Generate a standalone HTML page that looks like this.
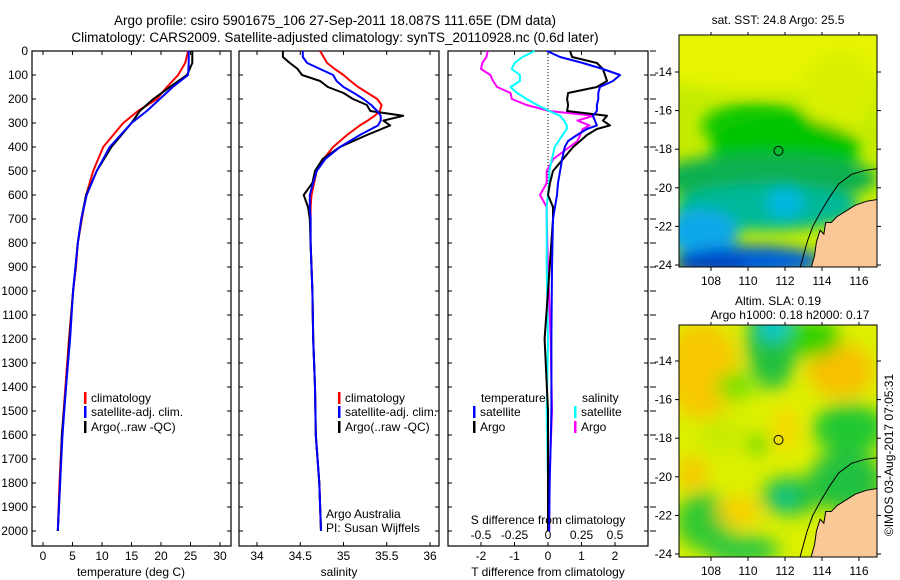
<!DOCTYPE html>
<html><head><meta charset="utf-8"><style>
body{margin:0;background:#fff}
svg{display:block;font-family:"Liberation Sans",sans-serif}
</style></head><body>
<svg id="c" width="900" height="580" viewBox="0 0 900 580" xmlns="http://www.w3.org/2000/svg">
<defs>
<filter id="bl1" x="-20%" y="-20%" width="140%" height="140%"><feGaussianBlur stdDeviation="9"/></filter>
<filter id="bl2" x="-30%" y="-30%" width="160%" height="160%"><feGaussianBlur stdDeviation="7"/></filter>
<clipPath id="m1c"><rect x="679" y="35" width="198" height="232"/></clipPath>
<clipPath id="m2c"><rect x="679" y="325" width="198" height="232"/></clipPath>
</defs>
<text x="335" y="25" font-size="13.5" text-anchor="middle">Argo profile: csiro 5901675_106 27-Sep-2011 18.087S 111.65E (DM data)</text>
<text x="335" y="42" font-size="13.5" text-anchor="middle">Climatology: CARS2009. Satellite-adjusted climatology: synTS_20110928.nc (0.6d later)</text>
<g id="maps"></g>
<g id="plots"></g>
</svg>
<script>
// ---- data ----
const tDepth=[0,50,100,150,200,250,300,400,500,600,700,800,900,1000,1200,1400,1600,1800,2000];
const tClim=[24.6,24.1,22.9,21,19.3,16.1,13.6,10.2,8.5,7.3,6.6,5.9,5.6,5.1,4.4,3.8,3.2,2.8,2.5];
const tSat=[24.7,24.7,24.6,22,19.8,17.6,15,11.3,9.1,7.4,6.5,5.9,5.5,5.1,4.6,3.9,3.3,2.9,2.5];
const tArgo=[25.3,25.3,24.4,21.5,18.7,16.4,15,11.6,9.1,7.3,6.5,5.9,5.5,5.1,4.5,3.9,3.2,2.9,2.5];
const sDepth=[0,25,50,75,100,125,150,175,200,225,250,270,290,310,350,400,450,500,550,600,650,700,800,1000,1200,1400,1600,1800,2000];
const sArgo=[34.30,34.30,34.38,34.47,34.52,34.73,34.82,35.0,35.11,35.27,35.31,35.69,35.46,35.54,35.27,34.96,34.76,34.67,34.64,34.54,34.59,34.61,34.62,34.64,34.65,34.67,34.68,34.72,34.74];
const sClim=[34.73,34.77,34.81,34.9,35.0,35.08,35.17,35.28,35.39,35.44,35.42,35.36,35.28,35.19,35.04,34.88,34.77,34.69,34.66,34.63,34.62,34.62,34.62,34.64,34.65,34.67,34.68,34.72,34.74];
const sSat=[34.53,34.53,34.58,34.73,34.88,34.92,35.0,35.12,35.23,35.32,35.39,35.43,35.43,35.4,35.19,34.96,34.79,34.69,34.65,34.61,34.61,34.62,34.62,34.64,34.65,34.67,34.68,34.72,34.74];
const dDepth=[0,25,50,75,100,125,150,175,200,225,250,270,290,310,325,350,375,400,450,500,550,600,650,700,900,1200,1500,1800,2000];
const dTSat=[-0.03,0.36,1.04,1.64,2.15,1.94,1.55,1.5,1.5,1.46,1.46,1.34,1.4,1.46,1.16,0.87,0.6,0.5,0.42,0.36,0.3,0.27,0.21,0.15,0.12,0.1,0.1,0.05,0.03];
const dTArgo=[0.66,0.72,1.46,1.64,1.7,1.76,1.46,0.6,0.57,0.6,0.57,1.76,1.64,1.85,1.46,1.16,0.96,0.75,0.45,0.15,0.06,0,0.15,0.15,0.05,-0.1,0,0,0];
const dSArgo=[-0.45,-0.46,-0.49,-0.5,-0.43,-0.41,-0.38,-0.28,-0.27,-0.16,0.01,0.34,0.22,0.31,0.26,0.24,0.22,0.16,0.04,-0.01,-0.01,-0.06,-0.01,-0.01,0,0.02,0.03,0.01,0.01];
const dSSat=[-0.1,-0.19,-0.25,-0.27,-0.21,-0.21,-0.28,-0.23,-0.16,-0.08,0.01,0.09,0.12,0.14,0.14,0.11,0.08,0.05,0.03,0.01,0.01,0,-0.01,-0.01,-0.01,0,-0.01,0,0];
const depthTicks=[0,100,200,300,400,500,600,700,800,900,1000,1100,1200,1300,1400,1500,1600,1700,1800,1900,2000];
const tTicks=[0,5,10,15,20,25,30];
const sTicks=[34,34.5,35,35.5,36];
const dTTicks=[-2,-1,0,1,2];
const dSTicks=[-0.5,-0.25,0,0.25,0.5];
const latTicks=[-14,-16,-18,-20,-22,-24];
const lonTicks=[108,110,112,114,116];

const NS='http://www.w3.org/2000/svg';
const P=document.getElementById('plots'), M=document.getElementById('maps');
function mk(tag,attrs,parent){const e=document.createElementNS(NS,tag);for(const k in attrs)e.setAttribute(k,attrs[k]);(parent||P).appendChild(e);return e;}
function txt(x,y,s,anchor,size,parent){const e=mk('text',{x:x,y:y,'font-size':size||12,'text-anchor':anchor||'start'},parent);e.textContent=s;return e;}
const TOP=51,BOT=546;
const yD=d=>TOP+d*0.24;
const xT=v=>43+v*5.9;
const xS=v=>257+(v-34)*86.5;
const xDT=v=>548+v*33.5;
const xDS=v=>548+v*134;

function panel(x0,x1,name){
  const r=mk('rect',{x:x0,y:TOP,width:x1-x0,height:BOT-TOP,fill:'none',stroke:'#000','stroke-width':1.2});
  
  
  depthTicks.forEach(d=>{mk('line',{x1:x0,x2:x0+4,y1:yD(d),y2:yD(d),stroke:'#000'});mk('line',{x1:x1-4,x2:x1,y1:yD(d),y2:yD(d),stroke:'#000'});});
}
function line(xs,ds,xf,color,name){
  const pts=xs.map((v,i)=>xf(v).toFixed(1)+','+yD(ds[i]).toFixed(1)).join(' ');
  const e=mk('polyline',{points:pts,fill:'none',stroke:color,'stroke-width':2,'stroke-linejoin':'round'});
  
  
}
// panel 1
panel(32,231,'temperature-panel');
depthTicks.forEach(d=>{const t=txt(28,yD(d)+4,String(d),'end',12);});
tTicks.forEach(v=>{mk('line',{x1:xT(v),x2:xT(v),y1:BOT,y2:BOT-4,stroke:'#000'});mk('line',{x1:xT(v),x2:xT(v),y1:TOP,y2:TOP+4,stroke:'#000'});const t=txt(xT(v),560,String(v),'middle',12);});
line(tClim,tDepth,xT,'#f00','temperature-climatology-line');
line(tArgo,tDepth,xT,'#000','temperature-argo-line');
line(tSat,tDepth,xT,'#00f','temperature-satellite-line');
const xl1=txt(131,576,'temperature (deg C)','middle',12);
// panel 2
panel(239,439,'salinity-panel');
sTicks.forEach(v=>{mk('line',{x1:xS(v),x2:xS(v),y1:BOT,y2:BOT-4,stroke:'#000'});mk('line',{x1:xS(v),x2:xS(v),y1:TOP,y2:TOP+4,stroke:'#000'});const t=txt(xS(v),560,String(v),'middle',12);});
line(sClim,sDepth,xS,'#f00','salinity-climatology-line');
line(sArgo,sDepth,xS,'#000','salinity-argo-line');
line(sSat,sDepth,xS,'#00f','salinity-satellite-line');
const xl2=txt(339,576,'salinity','middle',12);
// panel 3
panel(448,648,'difference-panel');
mk('line',{x1:548,x2:548,y1:TOP,y2:yD(620),stroke:'#000','stroke-dasharray':'1,2'});
dTTicks.forEach(v=>{mk('line',{x1:xDT(v),x2:xDT(v),y1:BOT,y2:BOT-4,stroke:'#000'});mk('line',{x1:xDT(v),x2:xDT(v),y1:TOP,y2:TOP+4,stroke:'#000'});const t=txt(xDT(v),560,String(v),'middle',12);});
dSTicks.forEach(v=>{const t=txt(xDS(v),539,String(v),'middle',12);});
line(dSArgo,dDepth,xDS,'#f0f','s-diff-argo-line');
line(dSSat,dDepth,xDS,'#0ff','s-diff-satellite-line');
line(dTArgo,dDepth,xDT,'#000','t-diff-argo-line');
line(dTSat,dDepth,xDT,'#00f','t-diff-satellite-line');
depthTicks.forEach(d=>mk('line',{x1:650,x2:656,y1:yD(d),y2:yD(d),stroke:'#000'}));
const xl3=txt(548,576,'T difference from climatology','middle',12);
const xl4=txt(548,524,'S difference from climatology','middle',12);
// legends
function leg(x,y,c,s,name){mk('rect',{x:x,y:y-10,width:2.5,height:12,fill:c});const t=txt(x+7,y,s,'start',12);}
leg(84,402,'#f00','climatology','legend-climatology');
leg(84,416,'#00f','satellite-adj. clim.','legend-satellite');
leg(84,431,'#000','Argo(..raw -QC)','legend-argo');
leg(338,402,'#f00','climatology','legend2-climatology');
leg(338,416,'#00f','satellite-adj. clim.','legend2-satellite');
leg(338,431,'#000','Argo(..raw -QC)','legend2-argo');
txt(481,402,'temperature','start',12);
txt(582,402,'salinity','start',12);
leg(473,416,'#00f','satellite','legend3-t-satellite');
leg(473,431,'#000','Argo','legend3-t-argo');
leg(574,416,'#0ff','satellite','legend3-s-satellite');
leg(574,431,'#f0f','Argo','legend3-s-argo');
txt(326,518,'Argo Australia','start',12);
txt(326,532,'PI: Susan Wijffels','start',12);

// ---- maps ----
const mx=lon=>711+(lon-108)*18.5;
function map(y0,yLat14,clip,blobs,bg,name,filt){
  const my=lat=>yLat14+(-14-lat)*(193/10);
  const g=mk('g',{'clip-path':'url(#'+clip+')'},M);
  
  
  mk('rect',{x:679,y:y0,width:198,height:232,fill:bg},g);
  const gb=mk('g',{filter:'url(#'+filt+')'},g);
  blobs.forEach(b=>mk('ellipse',{cx:mx(b[0]),cy:my(b[1]),rx:b[2]*18.5,ry:b[3]*19.3,fill:b[4]},gb));
  const land=[[117,-20.6],[116.4,-20.7],[115.8,-20.9],[115.3,-21.2],[114.8,-21.5],[114.5,-21.8],[114.2,-21.8],[114.1,-22.4],[113.9,-22.2],[113.7,-22.8],[113.6,-23.5],[113.4,-24.2],[117,-24.2]];
  mk('polygon',{points:land.map(p=>mx(p[0])+','+my(p[1])).join(' '),fill:'#f9c896',stroke:'#000','stroke-width':1},g);
  const iso=[[117.1,-19.0],[116.3,-19.1],[115.6,-19.3],[114.9,-19.8],[114.4,-20.5],[113.9,-21.3],[113.5,-22.0],[113.2,-22.8],[113.0,-23.5],[112.8,-24.2]];
  mk('polyline',{points:iso.map(p=>mx(p[0])+','+my(p[1])).join(' '),fill:'none',stroke:'#000','stroke-width':1},g);
  const c=mk('circle',{cx:mx(111.65),cy:my(-18.087),r:4.5,fill:'none',stroke:'#000','stroke-width':1},M);
  
  
  mk('rect',{x:679,y:y0,width:198,height:232,fill:'none',stroke:'#000'},M);
  latTicks.forEach(l=>{mk('line',{x1:679,x2:675,y1:my(l),y2:my(l),stroke:'#000'},M);mk('line',{x1:877,x2:881,y1:my(l),y2:my(l),stroke:'#000'},M);txt(672,my(l)+4,String(l),'end',12,M);});
  lonTicks.forEach(l=>{mk('line',{x1:mx(l),x2:mx(l),y1:y0+232,y2:y0+236,stroke:'#000'},M);mk('line',{x1:mx(l),x2:mx(l),y1:y0,y2:y0-3,stroke:'#000'},M);txt(mx(l),y0+250,String(l),'middle',12,M);});
}
map(35,72,'m1c',[
 [111,-12.5,9,2.5,'#e6f400'],[115,-15,2,2,'#d8f000'],[110.5,-16.8,3,1.2,'#10c800'],[112,-18,4,1.6,'#00c400'],
 [111,-19.5,6,1.3,'#10b050'],[111,-21,5,1.2,'#00b898'],[112,-20.8,1,0.8,'#00b8e0'],[107.5,-22.3,2,1.2,'#10a8e8'],
 [110,-23.8,4,0.8,'#0060d8'],[108,-24,2,0.5,'#0040c0']
],'#c4ec00','sst-map','bl2');
map(325,361,'m2c',[
 [107.5,-14.5,2,2.5,'#f8c800'],[115,-14.5,1.8,1.4,'#f8c000'],[111.3,-13,1.4,2.5,'#20c040'],[111.5,-12.3,1,0.6,'#00c8d8'],
 [115.5,-17.5,2,1.3,'#20c830'],[113.5,-12.8,1.5,1,'#30d000'],[109.3,-15.3,1,0.7,'#70e000'],[112,-17.5,0.7,1.2,'#f8d800'],
 [112.3,-21,1.6,1,'#20c040'],[112,-21.1,0.5,0.5,'#00c8a0'],[107.6,-22.3,1.5,1.5,'#30c830'],[109.5,-21.8,1.2,0.8,'#f8d000'],
 [107,-19.8,0.8,0.9,'#f8c800'],[115.3,-20.2,2,1.6,'#20c040'],[110.5,-18.3,0.6,0.5,'#60d800'],[109.7,-23.8,2,0.8,'#30c840'],
 [108.5,-17.8,1.2,1,'#c8ec00']
],'#dcf000','sla-map','bl1');
txt(778,24,'sat. SST: 24.8 Argo: 25.5','middle',12,M);
txt(778,305,'Altim. SLA: 0.19','middle',12,M);
txt(790,319,'Argo h1000: 0.18 h2000: 0.17','middle',12,M);
const cp=mk('text',{x:0,y:0,'font-size':12,'text-anchor':'middle',transform:'translate(893,455) rotate(-90)'},M);
cp.textContent='©IMOS 03-Aug-2017 07:05:31';


</script>
</body></html>
